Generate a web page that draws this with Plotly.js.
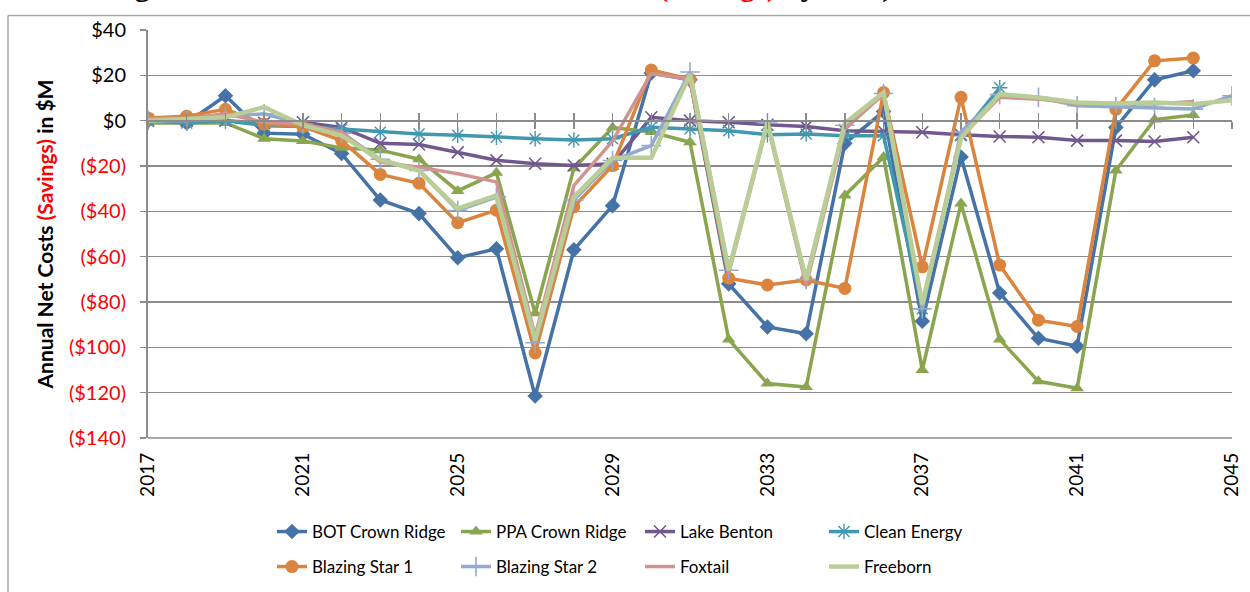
<!DOCTYPE html>
<html>
<head>
<meta charset="utf-8">
<script src="https://cdn.plot.ly/plotly-3.0.1.min.js"></script>
<style>
  html, body { margin: 0; padding: 0; background: #fff; }
  #chart { width: 1250px; height: 592px; }
</style>
</head>
<body>
<div id="chart"></div>
<script>
// ---- data ----
const years = [2017,2018,2019,2020,2021,2022,2023,2024,2025,2026,2027,2028,2029,2030,2031,2032,2033,2034,2035,2036,2037,2038,2039,2040,2041,2042,2043,2044,2045];
const seriesNames = ["BOT Crown Ridge","PPA Crown Ridge","Lake Benton","Clean Energy","Blazing Star 1","Blazing Star 2","Foxtail","Freeborn"];
const botCrownRidge = [0,-1,11,-5.5,-6,-14.5,-35,-41,-60.5,-56.5,-121.5,-57,-37.5,21,18,-72,-91,-94,-10,4,-88.5,-16,-76,-96,-99.5,-3,18,22];
const ppaCrownRidge = [-1,-1,-1,-8,-9,-12,-13,-17,-31,-23,-85,-21,-3,-5,-9.5,-96.5,-116,-117.5,-33,-16,-110,-36.5,-96.5,-115,-118,-22,0.5,2.5];
const lakeBenton = [0,0,0,-1,-0.7,-3,-10,-10.5,-14,-17.5,-19,-19.8,-19,1.5,0,-0.7,-1.8,-2.6,-4.4,-4.7,-5.1,-6.2,-7,-7.3,-8.8,-8.8,-9.2,-7.3];
const cleanEnergy = [0,-1,0,-2.2,-2.6,-3.7,-5.1,-5.9,-6.4,-7.3,-8,-8.5,-8,-2.9,-3.7,-4.4,-6.2,-5.9,-6.6,-6.6,-83,-6.6,14.5];
const blazingStar1 = [1.2,2,5,-1.5,-2.6,-8.8,-23.7,-27.6,-45,-39.5,-102.5,-38,-19.8,22.3,18.3,-69.5,-72.5,-70.3,-74,12.4,-64.5,10.3,-63.7,-88,-90.8,5,26.4,27.6];
const blazingStar2 = [0,0,2,3,-1.5,-5.5,-17,-22,-39.6,-33.7,-98,-35,-17.6,-11,21.5,-66,-1,-70,-2,12,-83,-5,11.5,10.3,6.6,6.2,5.8,5.1,11];
const foxtail = [1,1,3,-0.7,-1.5,-5,-18.3,-20.5,-23.4,-27,-95,-28.6,-9,20.8,18.3,-67.4,-1.5,-72.5,-3.7,11.7,-81,-7,10.3,9.5,7.6,7.3,7.3,8.5];
const freeborn = [0,0.5,1.5,6,-2,-6.6,-17.3,-22,-38.8,-33,-97,-33.7,-16.4,-16.4,20.5,-66,-0.7,-70.3,-1.2,12.4,-81,-7.6,11.7,10.2,8,7.6,8,7.3,9];
const yTickVals = [40,20,0,-20,-40,-60,-80,-100,-120,-140];
const yTickText = ["$40","$20","$0","($20)","($40)","($60)","($80)","($100)","($120)","($140)"];
const xTickVals = [2017,2021,2025,2029,2033,2037,2041,2045];

// ---- styling ----
const FONT = "Lato, 'Open Sans', sans-serif";
const GRID = "#8c8c8c";
const RED = "#ff0000";
const styles = [
  {color:"#4572A7", symbol:"diamond", size:12, lw:3.5, legend:"legend"},
  {color:"#89A54E", symbol:"triangle-up", size:12, lw:3.5, legend:"legend"},
  {color:"#71588F", symbol:"x-thin-open", size:12, lw:3.5, legend:"legend", mlw:1.6},
  {color:"#4198AF", symbol:"asterisk-open", size:13, lw:3.5, legend:"legend", mlw:1.4},
  {color:"#DB843D", symbol:"circle", size:13, lw:3.5, legend:"legend2"},
  {color:"#93A9CF", symbol:"cross-thin-open", size:14, lw:3.5, legend:"legend2", mlw:1.6},
  {color:"#D19392", symbol:null, size:0, lw:3.5, legend:"legend2"},
  {color:"#B9CD96", symbol:null, size:0, lw:4.5, legend:"legend2"}
];
const values = [botCrownRidge, ppaCrownRidge, lakeBenton, cleanEnergy, blazingStar1, blazingStar2, foxtail, freeborn];

const traces = values.map((vals, i) => {
  const s = styles[i];
  const t = {
    type: "scatter",
    x: years.slice(0, vals.length),
    y: vals,
    name: seriesNames[i],
    legend: s.legend,
    mode: s.symbol ? "lines+markers" : "lines",
    line: {color: s.color, width: s.lw},
    hoverinfo: "x+y+name"
  };
  if (s.symbol) {
    t.marker = {symbol: s.symbol, size: s.size, color: s.color,
                line: {color: s.color, width: s.mlw || 0}};
  }
  return t;
});
// empty helper traces so the zero-line tick axes are drawn
traces.push({type:"scatter", x:[], y:[], xaxis:"x2", yaxis:"y", showlegend:false, hoverinfo:"skip"});
traces.push({type:"scatter", x:[], y:[], xaxis:"x3", yaxis:"y", showlegend:false, hoverinfo:"skip"});

// pixel helpers for paper-referenced decorations
const L = 148, R = 18, T = 29.5, B = 153.5, W = 1250, H = 592;
const pw = W - L - R, ph = H - T - B;
const px = p => (p - L) / pw;
const py = q => (H - B - q) / ph;
const cx = p => p / W;
const cy = q => 1 - q / H;
const zeroPos = (0 - (-140)) / (40 - (-140));

const zeroAxis = (ticks) => ({
  overlaying: "x", anchor: "free", position: zeroPos, range: [2017, 2045],
  tickmode: "linear", tick0: 2017, dtick: 1, ticks: ticks, ticklen: 7, tickwidth: 1.5,
  tickcolor: GRID, showline: true, linecolor: GRID, linewidth: 2,
  showticklabels: false, showgrid: false, zeroline: false, fixedrange: true
});

const legendBase = (yPix) => ({
  orientation: "h", xref: "container", yref: "container",
  x: cx(272), xanchor: "left", y: cy(yPix), yanchor: "middle",
  entrywidth: 139, entrywidthmode: "pixels",
  font: {family: FONT, size: 17, color: "#000"}, bgcolor: "rgba(0,0,0,0)",
  traceorder: "normal", itemclick: false, itemdoubleclick: false
});

const layout = {
  width: W, height: H,
  margin: {l: L, r: R, t: T, b: B, pad: 0, autoexpand: false},
  paper_bgcolor: "#ffffff", plot_bgcolor: "#ffffff",
  font: {family: FONT, size: 19, color: "#000"},
  showlegend: true,
  xaxis: {
    range: [2017, 2045], tickmode: "array", tickvals: xTickVals,
    ticktext: xTickVals.map(String), tickangle: -90, ticks: "",
    ticklabelstandoff: 10, automargin: false,
    tickfont: {family: FONT, size: 19, color: "#000"},
    showgrid: false, zeroline: false, showline: false, fixedrange: true
  },
  xaxis2: zeroAxis("outside"),
  xaxis3: zeroAxis("inside"),
  yaxis: {
    range: [-140, 40], tickmode: "array", tickvals: yTickVals,
    ticktext: yTickText.map((t, i) => yTickVals[i] < 0 ? `<span style="color:${RED}">${t}</span>` : t),
    tickfont: {family: FONT, size: 20, color: "#000"},
    ticks: "outside", ticklen: 6, tickwidth: 1.5, tickcolor: GRID,
    ticklabelstandoff: 10, automargin: false,
    showline: true, linecolor: GRID, linewidth: 2,
    showgrid: true, gridcolor: GRID, gridwidth: 1.5, zeroline: false,
    title: {
      text: `<b>Annual Net Costs <span style="color:${RED}">(Savings)</span> in $M</b>`,
      font: {family: FONT, size: 21, color: "#000"}, standoff: 10
    },
    fixedrange: true
  },
  legend: legendBase(532),
  legend2: legendBase(567),
  shapes: [
    {type: "line", xref: "paper", yref: "paper", x0: px(8), x1: px(1252), y0: py(15), y1: py(15),
     line: {color: "#a6a6a6", width: 1.5}, layer: "above"},
    {type: "line", xref: "paper", yref: "paper", x0: px(8), x1: px(8), y0: py(15), y1: py(594),
     line: {color: "#a6a6a6", width: 1.5}, layer: "above"},
    {type: "line", xref: "paper", yref: "paper", x0: 0, x1: 1, y0: 0, y1: 0,
     line: {color: GRID, width: 1.5}, layer: "below"}
  ],
  annotations: [
    {xref: "paper", yref: "paper", x: px(106), y: py(4), xanchor: "left", yanchor: "bottom",
     showarrow: false,
     text: `<b>Figure 4: Annual Net Costs of Alternatives <span style="color:${RED}">(Savings)</span> by Year)</b>`,
     font: {family: "'Liberation Serif', serif", size: 30, color: "#000"}}
  ]
};

Plotly.newPlot("chart", traces, layout, {displayModeBar: false, staticPlot: true});
</script>
</body>
</html>
